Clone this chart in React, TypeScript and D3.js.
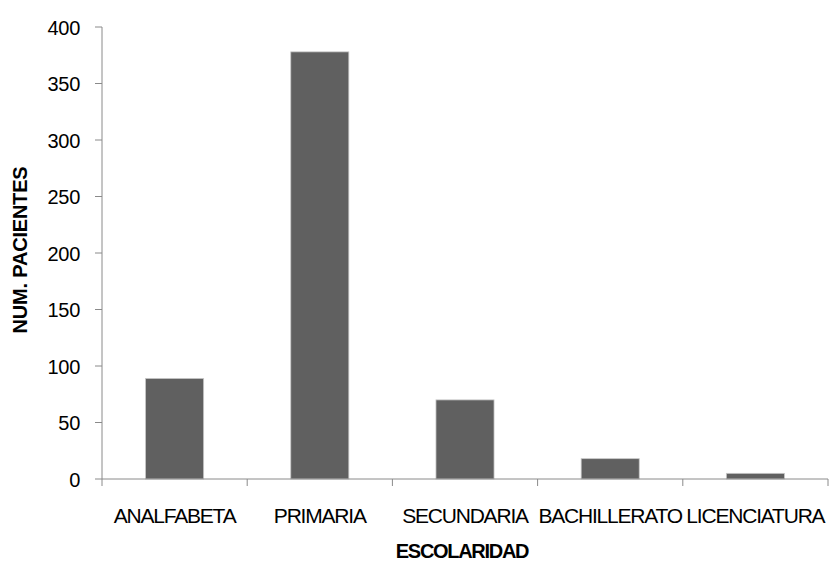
import React from "react";
import * as d3 from "d3";

const categories = ["ANALFABETA", "PRIMARIA", "SECUNDARIA", "BACHILLERATO", "LICENCIATURA"];
const pacientes = [89, 378, 70, 18, 5];
const yTicks = [0, 50, 100, 150, 200, 250, 300, 350, 400];

const W = 830;
const H = 563;
const left = 102;
const right = 828;
const top = 27;
const bottom = 479;

export default function App() {
  const x = d3.scaleBand<string>().domain(categories).range([left, right]).paddingInner(0).paddingOuter(0);
  const y = d3.scaleLinear().domain([0, 400]).range([bottom, top]);
  const bw = x.bandwidth() * 0.4;
  const font = "'Liberation Sans', Arial, sans-serif";
  const axisColor = "#8a8a8a";

  return (
    <svg width={W} height={H} style={{ position: "absolute", left: 0, top: 0, background: "#fff" }}>
      {/* bars */}
      {categories.map((c, i) => {
        const cx = (x(c) as number) + x.bandwidth() / 2;
        return (
          <rect
            key={c}
            x={cx - bw / 2}
            y={y(pacientes[i])}
            width={bw}
            height={bottom - y(pacientes[i])}
            fill="#606060"
            stroke="#c8c8c8"
            strokeWidth={0.8}
          />
        );
      })}
      {/* y axis */}
      <line x1={left} x2={left} y1={top} y2={bottom} stroke={axisColor} strokeWidth={1} />
      {yTicks.map((t) => (
        <g key={t}>
          <line x1={left - 7} x2={left} y1={y(t)} y2={y(t)} stroke={axisColor} strokeWidth={1} />
          <text
            x={80}
            y={y(t) + 7.5}
            textAnchor="end"
            fontFamily={font}
            fontSize={20}
            letterSpacing={-0.3}
            fill="#000"
          >
            {t}
          </text>
        </g>
      ))}
      {/* x axis */}
      <line x1={left} x2={right} y1={bottom} y2={bottom} stroke={axisColor} strokeWidth={1} />
      {d3.range(categories.length + 1).map((i) => {
        const xx = left + i * x.bandwidth();
        return <line key={i} x1={xx} x2={xx} y1={bottom} y2={bottom + 7} stroke={axisColor} strokeWidth={1} />;
      })}
      {categories.map((c) => (
        <text
          key={c}
          x={(x(c) as number) + x.bandwidth() / 2}
          y={523}
          textAnchor="middle"
          fontFamily={font}
          fontSize={21}
          letterSpacing={-1.2}
          fill="#000"
        >
          {c}
        </text>
      ))}
      {/* axis titles */}
      <text
        x={462}
        y={558}
        textAnchor="middle"
        fontFamily={font}
        fontSize={20}
        fontWeight="bold"
        letterSpacing={-1.3}
        fill="#000"
      >
        ESCOLARIDAD
      </text>
      <text
        transform={`translate(27, 250) rotate(-90)`}
        textAnchor="middle"
        fontFamily={font}
        fontSize={20}
        fontWeight="bold"
        letterSpacing={-0.2}
        fill="#000"
      >
        NUM. PACIENTES
      </text>
    </svg>
  );
}
